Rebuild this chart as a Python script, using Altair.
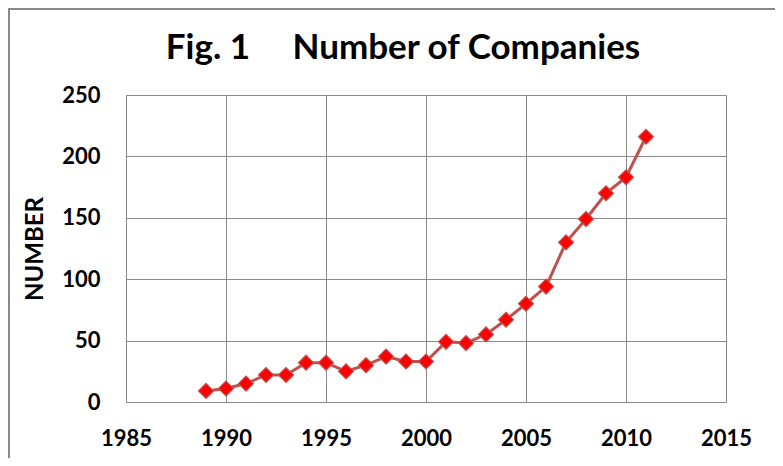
import altair as alt
import pandas as pd

years = [1989, 1990, 1991, 1992, 1993, 1994, 1995, 1996, 1997, 1998, 1999, 2000,
         2001, 2002, 2003, 2004, 2005, 2006, 2007, 2008, 2009, 2010, 2011]
counts = [9, 11, 15, 22, 22, 32, 32, 25, 30, 37, 33, 33,
          49, 48, 55, 67, 80, 94, 130, 149, 170, 183, 216]
x_ticks = [1985, 1990, 1995, 2000, 2005, 2010, 2015]
y_ticks = [0, 50, 100, 150, 200, 250]

df = pd.DataFrame({"year": years, "count": counts})

FONT = "Lato"

x_enc = alt.X("year:Q",
              scale=alt.Scale(domain=[1985, 2015], nice=False, zero=False),
              axis=alt.Axis(values=x_ticks, format="d", title=None, grid=True,
                            gridColor="#8a8a8a", gridWidth=1, domain=False,
                            ticks=False, tickSize=0, labelPadding=43,
                            labelBaseline="alphabetic", labelFont=FONT,
                            labelFontSize=22, labelFontWeight="bold",
                            labelColor="#000000", labelFlush=False))
y_enc = alt.Y("count:Q",
              scale=alt.Scale(domain=[0, 250], nice=False),
              axis=alt.Axis(values=y_ticks, title="NUMBER", grid=True,
                            gridColor="#8a8a8a", gridWidth=1, domain=False,
                            ticks=False, tickSize=0, labelPadding=26,
                            labelFont=FONT, labelFontSize=22,
                            labelFontWeight="bold", labelColor="#000000",
                            titleFont=FONT, titleFontSize=24,
                            titleFontWeight="bold", titleColor="#000000",
                            titleX=-91, titleY=153.5, titleAngle=270,
                            titleBaseline="middle", titleAlign="center"))

line = alt.Chart(df).mark_line(color="#C0504D", strokeWidth=3).encode(x=x_enc, y=y_enc)
pts = alt.Chart(df).mark_point(shape="diamond", filled=True, size=225,
                               fill="#FF0000", stroke="#C0504D",
                               strokeWidth=1.2, opacity=1).encode(x="year:Q", y="count:Q")

border_left = alt.Chart(df).mark_rule(color="#888888", strokeWidth=2).encode(
    x=alt.value(-117), y=alt.value(-87), y2=alt.value(400))
border_top = alt.Chart(df).mark_rule(color="#888888", strokeWidth=2).encode(
    x=alt.value(-118), x2=alt.value(700), y=alt.value(-86))

chart = alt.layer(border_left, border_top, line, pts).properties(
    width=600, height=307,
    title=alt.TitleParams("Fig. 1\u00a0\u00a0\u00a0\u00a0\u00a0Number of Companies",
                          font=FONT, fontSize=35, fontWeight="bold",
                          color="#000000", anchor="middle", dx=-23, dy=87,
                          baseline="alphabetic", offset=0),
    autosize=alt.AutoSizeParams(type="none"),
    padding={"left": 118, "top": 87, "right": 49, "bottom": 56},
).configure_view(stroke="#a6a6a6", strokeWidth=1.5).configure(background="white")

chart.save("out.html", embed_options={"renderer": "svg", "actions": False})
